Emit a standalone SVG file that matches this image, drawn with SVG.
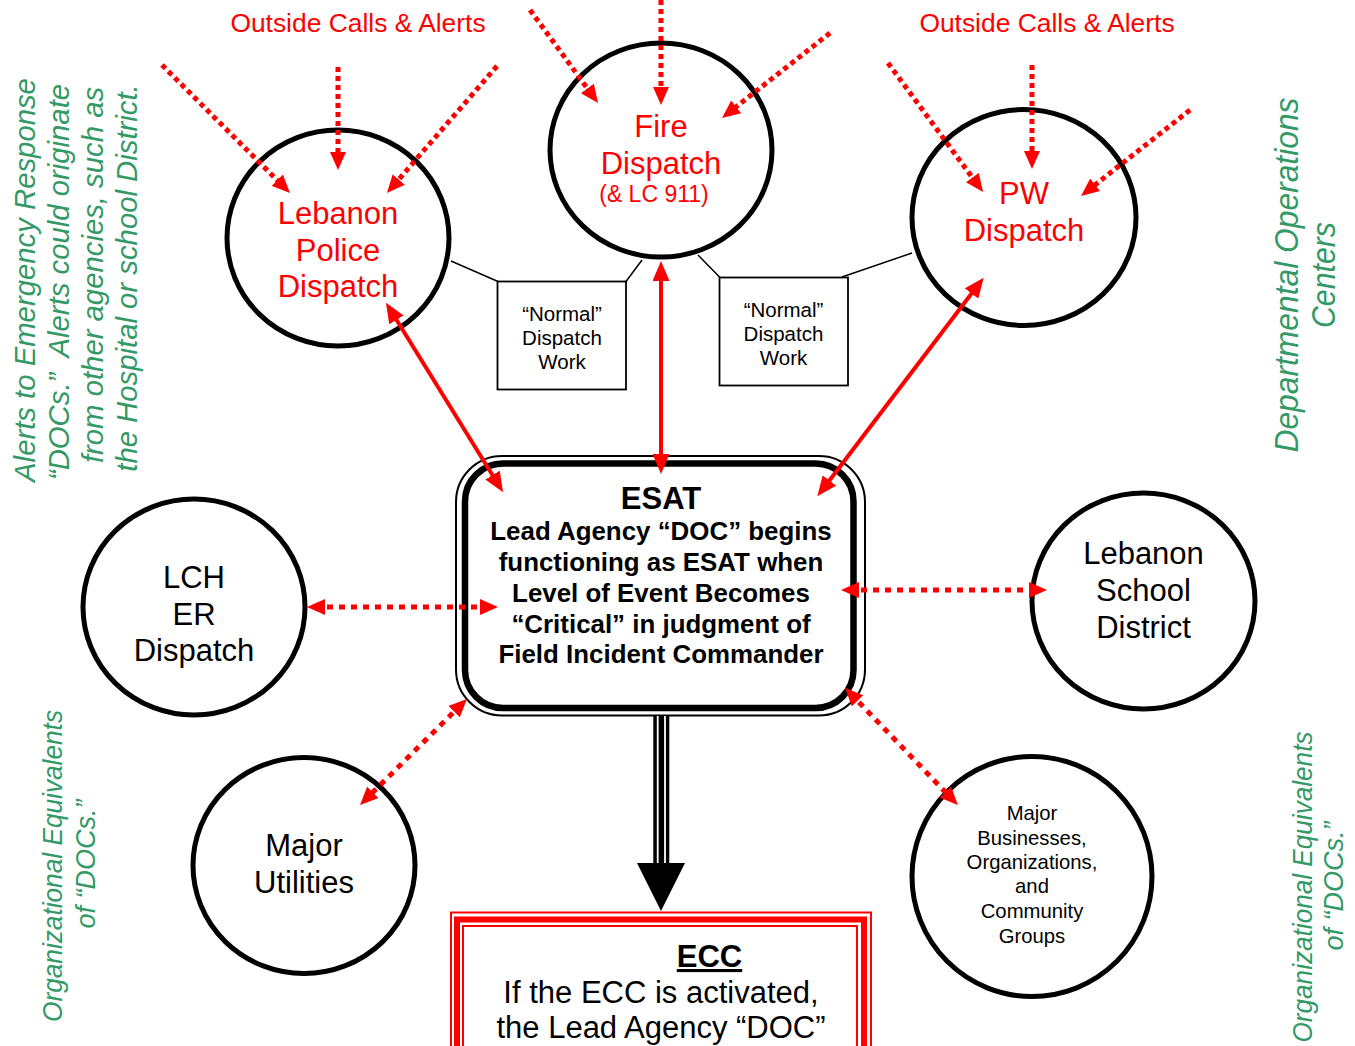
<svg xmlns="http://www.w3.org/2000/svg" width="1355" height="1046" viewBox="0 0 1355 1046">
<defs>
<style>
text{font-family:"Liberation Sans",Arial,sans-serif;text-anchor:middle}
.ring{fill:#fff;stroke:#000;stroke-width:5}
.rt{fill:#f00;font-size:31px}
.bt{fill:#000;font-size:31px}
.box{fill:#fff;stroke:#000;stroke-width:1.8}
.nt{font-size:20.5px;fill:#000}
.thin{stroke:#000;stroke-width:1.5;fill:none}
.solid{stroke:#f00;stroke-width:4;fill:none;marker-start:url(#ah);marker-end:url(#ah)}
.dot2{stroke:#f00;stroke-width:5;fill:none;stroke-dasharray:6 6;marker-start:url(#ad);marker-end:url(#ad)}
.dot1{stroke:#f00;stroke-width:5;fill:none;stroke-dasharray:5 4;marker-end:url(#ad)}
.gr{fill:#339966;font-style:italic}
.oc{fill:#f00;font-size:26.4px}
</style>
<marker id="ah" markerUnits="userSpaceOnUse" viewBox="0 0 20 17" markerWidth="20" markerHeight="17" refX="11" refY="8.5" orient="auto-start-reverse"><path d="M0,0 L20,8.5 L0,17 z" fill="#f00"/></marker>
<marker id="ad" markerUnits="userSpaceOnUse" viewBox="0 0 18 16" markerWidth="18" markerHeight="16" refX="10" refY="8" orient="auto-start-reverse"><path d="M0,0 L18,8 L0,16 z" fill="#f00"/></marker>
</defs>
<rect x="0" y="0" width="1355" height="1046" fill="#fff"/>

<!-- side notes -->
<g id="note-left-top" class="gr" font-size="29.3">
<text transform="translate(35,280) rotate(-90)">Alerts to Emergency Response</text>
<text transform="translate(69,282) rotate(-90)">“DOCs.”&#160; Alerts could originate</text>
<text transform="translate(103,275) rotate(-90)">from other agencies, such as</text>
<text transform="translate(137,278) rotate(-90)">the Hospital or school District.</text>
</g>
<g id="note-right-top" class="gr" font-size="34">
<text transform="translate(1298,275) rotate(-90)" textLength="355" lengthAdjust="spacingAndGlyphs">Departmental Operations</text>
<text transform="translate(1335,275) rotate(-90)" textLength="106" lengthAdjust="spacingAndGlyphs">Centers</text>
</g>
<g id="note-left-bottom" class="gr" font-size="27">
<text transform="translate(62,866) rotate(-90)" textLength="312" lengthAdjust="spacingAndGlyphs">Organizational Equivalents</text>
<text transform="translate(95,864) rotate(-90)">of “DOCs.”</text>
</g>
<g id="note-right-bottom" class="gr" font-size="27">
<text transform="translate(1312,887) rotate(-90)" textLength="311" lengthAdjust="spacingAndGlyphs">Organizational Equivalents</text>
<text transform="translate(1343,886) rotate(-90)">of “DOCs.”</text>
</g>
<g id="outside-calls">
<text class="oc" x="358" y="32">Outside Calls &amp; Alerts</text>
<text class="oc" x="1047" y="32">Outside Calls &amp; Alerts</text>
</g>

<!-- nodes -->
<g id="police">
<ellipse class="ring" cx="338" cy="238" rx="111" ry="108"/>
<text class="rt" x="338" y="224">Lebanon</text>
<text class="rt" x="338" y="261">Police</text>
<text class="rt" x="338" y="297">Dispatch</text>
</g>
<g id="fire">
<ellipse class="ring" cx="661" cy="150" rx="111" ry="107"/>
<text class="rt" x="661" y="137">Fire</text>
<text class="rt" x="661" y="174">Dispatch</text>
<text x="654" y="202" fill="#f00" font-size="23px">(&amp; LC 911)</text>
</g>
<g id="pw">
<ellipse class="ring" cx="1024" cy="217.5" rx="112" ry="108"/>
<text class="rt" x="1024" y="204">PW</text>
<text class="rt" x="1024" y="241">Dispatch</text>
</g>
<g id="normal-left">
<rect class="box" x="497.5" y="281.5" width="128.5" height="108"/>
<text class="nt" x="562" y="321">“Normal”</text>
<text class="nt" x="562" y="345">Dispatch</text>
<text class="nt" x="562" y="369">Work</text>
</g>
<g id="normal-right">
<rect class="box" x="719.5" y="277.5" width="128.5" height="108"/>
<text class="nt" x="783.5" y="317">“Normal”</text>
<text class="nt" x="783.5" y="341">Dispatch</text>
<text class="nt" x="783.5" y="365">Work</text>
</g>
<g id="lch">
<ellipse class="ring" cx="194" cy="607" rx="111" ry="108"/>
<text class="bt" x="194" y="588">LCH</text>
<text class="bt" x="194" y="625">ER</text>
<text class="bt" x="194" y="661">Dispatch</text>
</g>
<g id="school">
<ellipse class="ring" cx="1143.5" cy="601" rx="111.5" ry="108"/>
<text class="bt" x="1143.5" y="564">Lebanon</text>
<text class="bt" x="1143.5" y="601">School</text>
<text class="bt" x="1143.5" y="638">District</text>
</g>
<g id="utilities">
<ellipse class="ring" cx="304" cy="865.5" rx="111" ry="108"/>
<text class="bt" x="304" y="856">Major</text>
<text class="bt" x="304" y="893">Utilities</text>
</g>
<g id="businesses">
<ellipse class="ring" cx="1032" cy="876.5" rx="120" ry="120"/>
<g font-size="20.3px">
<text x="1032" y="820">Major</text>
<text x="1032" y="845">Businesses,</text>
<text x="1032" y="869">Organizations,</text>
<text x="1032" y="893">and</text>
<text x="1032" y="918">Community</text>
<text x="1032" y="943">Groups</text>
</g>
</g>
<g id="esat">
<rect x="456" y="456" width="409" height="259.5" rx="46" fill="#fff" stroke="#000" stroke-width="2"/>
<rect x="465" y="463.5" width="388.5" height="244.5" rx="38" fill="#fff" stroke="#000" stroke-width="6.5"/>
<g font-weight="bold" fill="#000">
<text x="661" y="509" font-size="31px">ESAT</text>
<g font-size="25.9px">
<text x="661" y="540">Lead Agency “DOC” begins</text>
<text x="661" y="571">functioning as ESAT when</text>
<text x="661" y="602">Level of Event Becomes</text>
<text x="661" y="633">“Critical” in judgment of</text>
<text x="661" y="663">Field Incident Commander</text>
</g>
</g>
</g>
<g id="ecc">
<rect x="451" y="912.5" width="420" height="200" fill="#fff" stroke="#f00" stroke-width="2"/>
<rect x="457" y="919.5" width="407" height="200" fill="none" stroke="#f00" stroke-width="6"/>
<rect x="463" y="926" width="394" height="200" fill="none" stroke="#f00" stroke-width="2"/>
<text x="709.5" y="967" font-size="31px" font-weight="bold" text-decoration="underline">ECC</text>
<text x="661" y="1003" font-size="31px">If the ECC is activated,</text>
<text x="661" y="1038" font-size="31px">the Lead Agency “DOC”</text>
</g>

<!-- connectors -->
<g id="connectors">
<line class="thin" x1="451" y1="261" x2="498" y2="281.5"/>
<line class="thin" x1="626" y1="281.5" x2="642" y2="260"/>
<line class="thin" x1="698" y1="255" x2="720" y2="277.5"/>
<line class="thin" x1="842" y1="277" x2="912" y2="253"/>

<line class="solid" x1="390.7" y1="310.5" x2="498.3" y2="484.5"/>
<line class="solid" x1="661" y1="270" x2="661" y2="465"/>
<line class="solid" x1="978.2" y1="284.8" x2="822.8" y2="489.2"/>

<line class="dot2" x1="315" y1="607" x2="490" y2="607"/>
<line class="dot2" x1="849" y1="590" x2="1039" y2="590"/>
<line class="dot2" x1="461.3" y1="704.6" x2="365.7" y2="799.4"/>
<line class="dot2" x1="850.6" y1="693.6" x2="952.3" y2="799.3"/>

<line class="dot1" x1="162" y1="65" x2="284.3" y2="187.3"/>
<line class="dot1" x1="338" y1="67" x2="338" y2="162"/>
<line class="dot1" x1="497" y1="66" x2="392.2" y2="187"/>
<line class="dot1" x1="530" y1="10" x2="593.3" y2="96.5"/>
<line class="dot1" x1="661" y1="0" x2="661" y2="97"/>
<line class="dot1" x1="830" y1="33" x2="728.3" y2="113"/>
<line class="dot1" x1="888" y1="63" x2="978.3" y2="185.6"/>
<line class="dot1" x1="1032" y1="65" x2="1032" y2="161"/>
<line class="dot1" x1="1190" y1="110" x2="1087.3" y2="191"/>

<g id="esat-to-ecc">
<rect x="653.3" y="716" width="16" height="148" fill="#000"/>
<line x1="657.7" y1="716" x2="657.7" y2="864" stroke="#fff" stroke-width="1.8"/>
<line x1="665" y1="716" x2="665" y2="864" stroke="#fff" stroke-width="1.8"/>
<polygon points="637,863 685,863 661,911" fill="#000"/>
</g>
</g>
</svg>
